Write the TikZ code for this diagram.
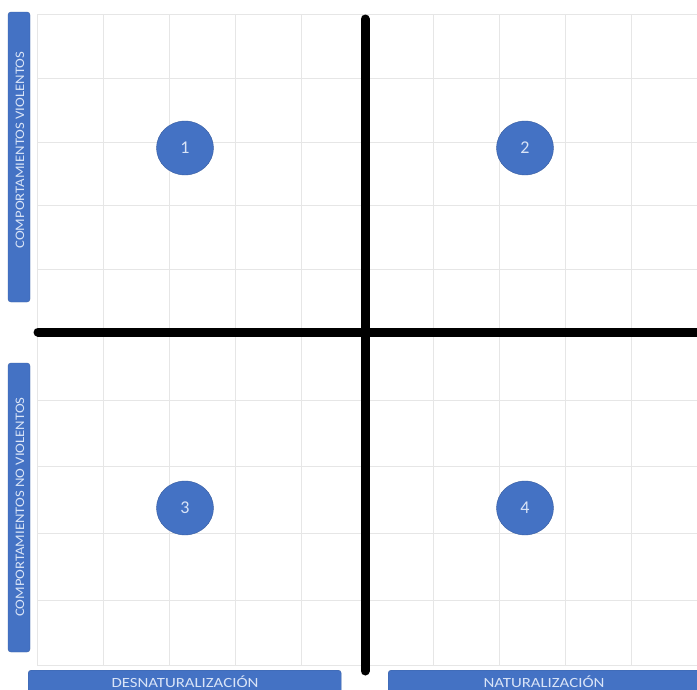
\documentclass[tikz,border=0pt]{standalone}
\usepackage{fontspec}
\setmainfont{Carlito}
\usetikzlibrary{shapes.geometric}
\definecolor{obl}{HTML}{4472C4}
\definecolor{gridc}{HTML}{E6E6E6}
\definecolor{lbl}{HTML}{D9E4F7}
\begin{document}
\begin{tikzpicture}[x=1pt,y=-1pt,
  gridline/.style={draw=gridc,line width=0.8pt},
  axisline/.style={draw=black,line width=9pt,line cap=round},
  bubble/.style={ellipse,fill=obl,draw=obl!80!black,line width=0.4pt,minimum width=57pt,minimum height=54pt,inner sep=0pt,text=lbl,font=\fontsize{18}{18}\selectfont},
  sidebar/.style={rectangle,rounded corners=3pt,fill=obl,draw=obl!85!black,line width=0.4pt,inner sep=0pt},
  vlabel/.style={text=lbl,inner sep=0pt,rotate=90,font=\fontsize{13}{13}\selectfont},
  hlabel/.style={text=lbl,inner sep=0pt,anchor=base,font=\fontsize{14}{14}\selectfont}
]
\useasboundingbox (0,0) rectangle (697,689);
\fill[white] (0,0) rectangle (697,689);
% grid
\foreach \x in {37,103,169,235,301,433,499,565,631}{
  \draw[gridline] (\x,14) -- (\x,665);
}
\foreach \y in {14,78,142,205,269,400,466,533,600,665}{
  \draw[gridline] (37,\y) -- (697,\y);
}
% axes
\coordinate (hl) at (38,332);
\coordinate (hr) at (700,332);
\coordinate (vt) at (365,19);
\coordinate (vb) at (365,671);
\draw[axisline] (hl) -- (hr);
\draw[axisline] (vt) -- (vb);
% bubbles
\node[bubble] (q1) at (185,148) {1};
\node[bubble] (q2) at (525,148) {2};
\node[bubble] (q3) at (185,508) {3};
\node[bubble] (q4) at (525,508) {4};
% side bars
\node[sidebar,minimum width=22pt,minimum height=290pt] (lv) at (19,157) {};
\node[sidebar,minimum width=22pt,minimum height=289pt] (lnv) at (19,507.5) {};
\node[sidebar,minimum width=313pt,minimum height=30pt,anchor=north west] (bd) at (28,670) {};
\node[sidebar,minimum width=320pt,minimum height=30pt,anchor=north west] (bn) at (388,670) {};
\node[vlabel] (lvt) at (20,150) {\scalebox{1.13}[1]{COMPORTAMIENTOS VIOLENTOS}};
\node[vlabel] (lnvt) at (20,507) {\scalebox{1.13}[1]{COMPORTAMIENTOS NO VIOLENTOS}};
\node[hlabel] (bdt) at (185,687) {\scalebox{1.2}[1]{DESNATURALIZACIÓN}};
\node[hlabel] (bnt) at (544,687) {\scalebox{1.2}[1]{NATURALIZACIÓN}};
\end{tikzpicture}
\end{document}
